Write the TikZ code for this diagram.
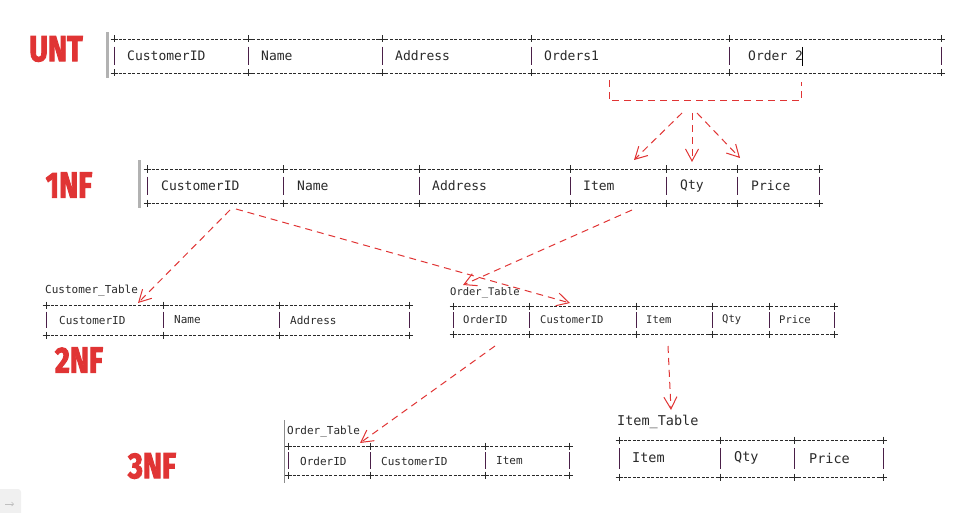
\documentclass[tikz,border=0pt]{standalone}
\usepackage{fontspec}
\setmonofont{DejaVu Sans Mono}
\newfontfamily\tagfont{Fira Sans}[BoldFeatures={FakeBold=3}]
\usetikzlibrary{arrows.meta}
\definecolor{nfred}{HTML}{E03434}
\definecolor{asciiink}{HTML}{2A2A2A}
\definecolor{barink}{HTML}{4A1F48}
\tikzset{
  asciidash/.style={asciiink,line width=0.7pt,dash pattern=on 3pt off 1.6pt},
  asciiplus/.style={asciiink,line width=0.7pt},
  asciibar/.style={barink,line width=0.9pt},
  cell/.style={anchor=west,inner sep=0pt,text=asciiink},
  nftag/.style={text=nfred,inner sep=0pt,font=\tagfont\bfseries\fontsize{36}{36}\selectfont},
  redflow/.style={nfred,line width=1pt,dash pattern=on 7pt off 5pt},
  redarrow/.style={redflow,-{Straight Barb[length=12pt,width=13pt,line width=1pt]}},
  sidebar/.style={draw=none,fill=black!30}
}
% #1 columns, #2 first x, #3 last x, #4 top y, #5 bottom y
\newcommand{\asciigrid}[5]{%
  \draw[asciidash] (#2,#4) -- (#3,#4);
  \draw[asciidash] (#2,#5) -- (#3,#5);
  \foreach \x in {#1} {
    \draw[asciiplus] (\x-3.5,#4) -- (\x+3.5,#4) (\x,#4-3.5) -- (\x,#4+3.5);
    \draw[asciiplus] (\x-3.5,#5) -- (\x+3.5,#5) (\x,#5-3.5) -- (\x,#5+3.5);
    \draw[asciibar] (\x,{(#4+#5)/2-(#5-#4)/3.6}) -- (\x,{(#4+#5)/2+(#5-#4)/3.6});
  }%
}
\begin{document}
\begin{tikzpicture}[x=1pt,y=-1pt]
\useasboundingbox (0,0) rectangle (973,513);

% UNT
\node[nftag] (unt) at (56,49) {\scalebox{0.8}[1]{UNT}};
\fill[sidebar] (106,32) rectangle (109,78);
\asciigrid{114,248,382,531,729,941}{114}{941}{39}{73}
\node[cell,font=\ttfamily\fontsize{13}{13}\selectfont] (uCust) at (127,56) {CustomerID};
\node[cell,font=\ttfamily\fontsize{13}{13}\selectfont] (uName) at (261,56) {Name};
\node[cell,font=\ttfamily\fontsize{13}{13}\selectfont] (uAddr) at (395,56) {Address};
\node[cell,font=\ttfamily\fontsize{13}{13}\selectfont] (uOrd1) at (544,56) {Orders1};
\node[cell,font=\ttfamily\fontsize{13}{13}\selectfont] (uOrd2) at (748,56) {Order 2};
\draw[black,line width=0.8pt] (802,47) -- (802,66);

% 1NF
\node[nftag] (nf1) at (69,185) {\scalebox{0.8}[1]{1NF}};
\fill[sidebar] (138,160) rectangle (141,208);
\asciigrid{147,283,419,570,666,737,819}{147}{819}{169}{203}
\node[cell,font=\ttfamily\fontsize{13}{13}\selectfont] (fCust) at (161,186) {CustomerID};
\node[cell,font=\ttfamily\fontsize{13}{13}\selectfont] (fName) at (297,186) {Name};
\node[cell,font=\ttfamily\fontsize{13}{13}\selectfont] (fAddr) at (432,186) {Address};
\node[cell,font=\ttfamily\fontsize{13}{13}\selectfont] (fItem) at (583,186) {Item};
\node[cell,font=\ttfamily\fontsize{13}{13}\selectfont] (fQty) at (680,186) {Qty};
\node[cell,font=\ttfamily\fontsize{13}{13}\selectfont] (fPrice) at (751,186) {Price};

% 2NF
\node[nftag] (nf2) at (79,360) {\scalebox{0.8}[1]{2NF}};
\node[cell,font=\ttfamily\fontsize{11}{11}\selectfont] (custTab) at (45,291) {Customer\_Table};
\asciigrid{46,163,279,409}{46}{409}{305}{335}
\node[cell,font=\ttfamily\fontsize{11}{11}\selectfont] (cCust) at (59,320) {CustomerID};
\node[cell,font=\ttfamily\fontsize{11}{11}\selectfont] (cName) at (174,320) {Name};
\node[cell,font=\ttfamily\fontsize{11}{11}\selectfont] (cAddr) at (290,320) {Address};

\node[cell,font=\ttfamily\fontsize{10.5}{10.5}\selectfont] (ordTab) at (450,293) {Order\_Table};
\asciigrid{453,529,636,712,769,834}{453}{834}{306}{334}
\node[cell,font=\ttfamily\fontsize{10.5}{10.5}\selectfont] (oOrd) at (463,320) {OrderID};
\node[cell,font=\ttfamily\fontsize{10.5}{10.5}\selectfont] (oCust) at (540,320) {CustomerID};
\node[cell,font=\ttfamily\fontsize{10.5}{10.5}\selectfont] (oItem) at (646,320) {Item};
\node[cell,font=\ttfamily\fontsize{10.5}{10.5}\selectfont] (oQty) at (722,320) {Qty};
\node[cell,font=\ttfamily\fontsize{10.5}{10.5}\selectfont] (oPrice) at (779,320) {Price};

% 3NF
\node[nftag] (nf3) at (152,466) {\scalebox{0.8}[1]{3NF}};
\draw[black!45,line width=0.6pt] (284,420) -- (284,483);
\node[cell,font=\ttfamily\fontsize{11}{11}\selectfont] (ord3Tab) at (287,432) {Order\_Table};
\asciigrid{288,370,485,569}{288}{569}{446}{475}
\node[cell,font=\ttfamily\fontsize{11}{11}\selectfont] (tOrd) at (300,461) {OrderID};
\node[cell,font=\ttfamily\fontsize{11}{11}\selectfont] (tCust) at (381,461) {CustomerID};
\node[cell,font=\ttfamily\fontsize{11}{11}\selectfont] (tItem) at (496,461) {Item};

\node[cell,font=\ttfamily\fontsize{13.5}{13.5}\selectfont] (itemTab) at (617,422) {Item\_Table};
\asciigrid{619,720,794,883}{619}{883}{440}{477}
\node[cell,font=\ttfamily\fontsize{13.5}{13.5}\selectfont] (iItem) at (632,458) {Item};
\node[cell,font=\ttfamily\fontsize{13.5}{13.5}\selectfont] (iQty) at (734,458) {Qty};
\node[cell,font=\ttfamily\fontsize{13.5}{13.5}\selectfont] (iPrice) at (809,458) {Price};

% flows
\coordinate (brL) at (609,80);
\coordinate (brR) at (801,82);
\coordinate (split1) at (682,113);
\coordinate (split2) at (692,113);
\coordinate (split3) at (697,113);
\coordinate (toItem) at (634,160);
\coordinate (toQty) at (692,162);
\coordinate (toPrice) at (740,158);
\draw[redflow] (brL) -- ++(0,21) -| (brR);
\draw[redarrow] (split1) -- (toItem);
\draw[redarrow] (split2) -- (toQty);
\draw[redarrow] (split3) -- (toPrice);

\coordinate (fromCust) at (230,210);
\coordinate (fromCust2) at (236,209);
\coordinate (fromItem) at (632,210);
\coordinate (toCustTab) at (138,303);
\coordinate (toOrdCust) at (570,303);
\coordinate (toOrdTab) at (463,285);
\draw[redarrow] (fromCust) -- (toCustTab);
\draw[redarrow] (fromCust2) -- (toOrdCust);
\draw[redarrow] (fromItem) -- (toOrdTab);

\coordinate (fromOrd) at (495,346);
\coordinate (fromOItem) at (668,346);
\coordinate (toOrd3) at (360,443);
\coordinate (toItemTab) at (671,410);
\draw[redarrow] (fromOrd) -- (toOrd3);
\draw[redarrow] (fromOItem) -- (toItemTab);

% corner widget
\fill[black!6,rounded corners=3pt] (-5,489) rectangle (21,520);
\draw[black!25,line width=0.6pt,-{Straight Barb[length=2pt,width=4pt]}] (5,504) -- (14,504);
\end{tikzpicture}
\end{document}
